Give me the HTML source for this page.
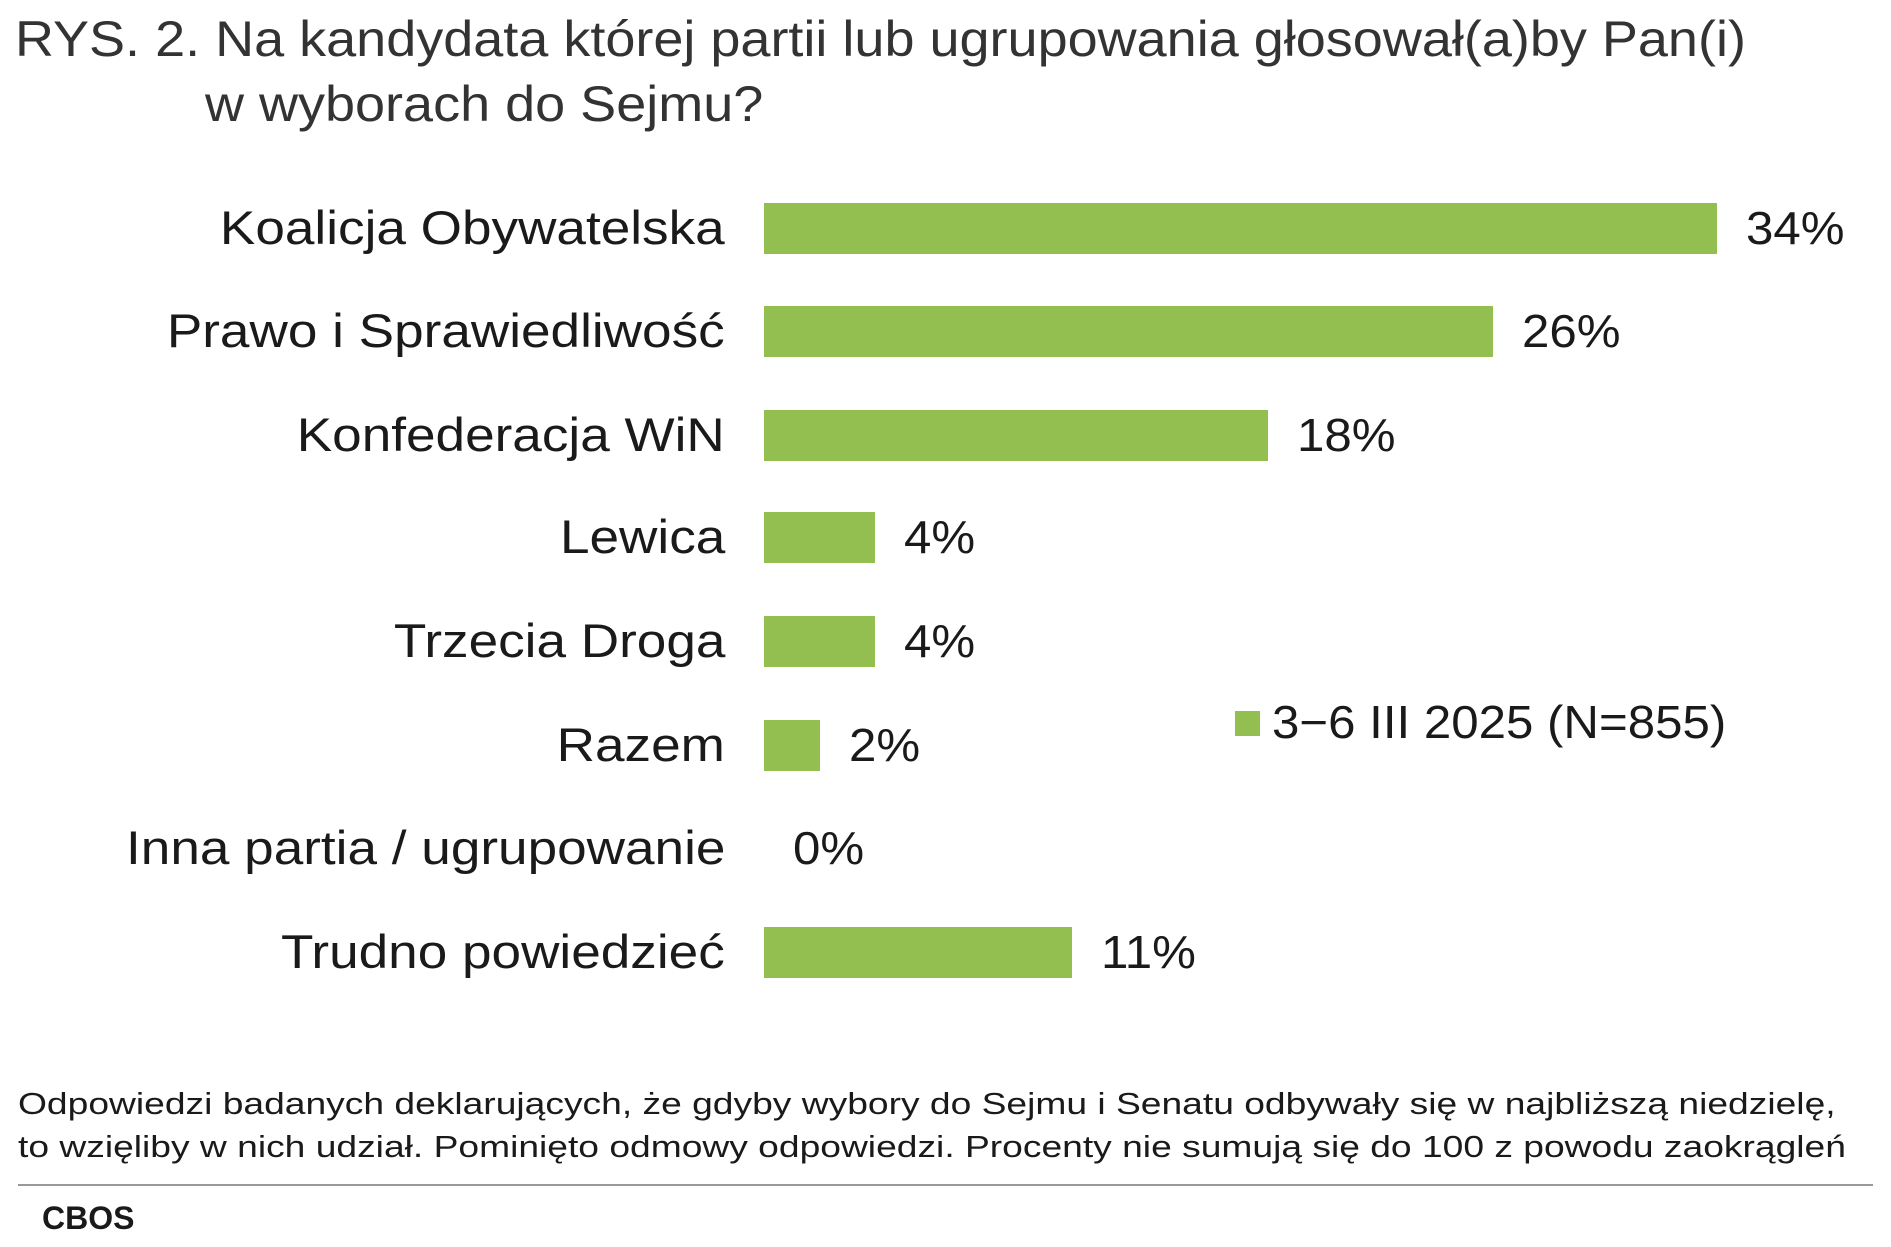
<!DOCTYPE html>
<html><head><meta charset="utf-8"><style>
body{margin:0;width:1891px;height:1247px;background:#fff;font-family:"Liberation Sans",sans-serif;color:#1a1a1a;position:relative;overflow:hidden}
.t{position:absolute;white-space:nowrap}
.title{font-size:50px;color:#333;transform:scaleX(1.08);transform-origin:left top}
.lab{font-size:47px;right:1166px;text-align:right;transform:scaleX(1.13);transform-origin:right top}
.val{font-size:46px;transform:scaleX(1.07);transform-origin:left top}
.bar{position:absolute;left:764px;height:51px;background:#92bf50}
.fn{font-size:31px;left:18px;transform:scaleX(1.2);transform-origin:left top}
</style></head><body>
<div class="t title" style="left:15px;top:10px">RYS. 2. Na kandydata której partii lub ugrupowania głosował(a)by Pan(i)</div>
<div class="t title" style="left:205px;top:75px">w wyborach do Sejmu?</div>

<div class="t lab" style="top:200px">Koalicja Obywatelska</div>
<div class="bar" style="top:203px;width:953px"></div>
<div class="t val" style="left:1746px;top:201px">34%</div>

<div class="t lab" style="top:303px">Prawo i Sprawiedliwość</div>
<div class="bar" style="top:306px;width:729px"></div>
<div class="t val" style="left:1522px;top:304px">26%</div>

<div class="t lab" style="top:407px">Konfederacja WiN</div>
<div class="bar" style="top:410px;width:504px"></div>
<div class="t val" style="left:1297px;top:408px">18%</div>

<div class="t lab" style="top:509px">Lewica</div>
<div class="bar" style="top:512px;width:111px"></div>
<div class="t val" style="left:904px;top:510px">4%</div>

<div class="t lab" style="top:613px">Trzecia Droga</div>
<div class="bar" style="top:616px;width:111px"></div>
<div class="t val" style="left:904px;top:614px">4%</div>

<div class="t lab" style="top:717px">Razem</div>
<div class="bar" style="top:720px;width:56px"></div>
<div class="t val" style="left:849px;top:718px">2%</div>

<div class="t lab" style="top:820px">Inna partia / ugrupowanie</div>
<div class="t val" style="left:793px;top:821px">0%</div>

<div class="t lab" style="top:924px">Trudno powiedzieć</div>
<div class="bar" style="top:927px;width:308px"></div>
<div class="t val" style="left:1101px;top:925px">11%</div>

<div style="position:absolute;left:1235px;top:711px;width:25px;height:25px;background:#92bf50"></div>
<div class="t val" style="left:1272px;top:695px">3−6 III 2025 (N=855)</div>

<div class="t fn" style="top:1086px">Odpowiedzi badanych deklarujących, że gdyby wybory do Sejmu i Senatu odbywały się w najbliższą niedzielę,</div>
<div class="t fn" style="top:1129px">to wzięliby w nich udział. Pominięto odmowy odpowiedzi. Procenty nie sumują się do 100 z powodu zaokrągleń</div>
<div style="position:absolute;left:18px;top:1184px;width:1855px;height:2px;background:#999"></div>
<div class="t" style="left:42px;top:1200px;font-size:32px;font-weight:bold">CBOS</div>
</body></html>
